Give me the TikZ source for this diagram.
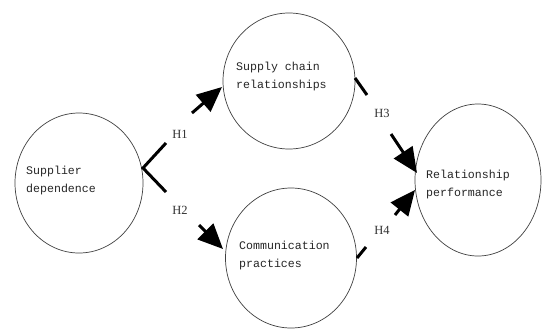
\documentclass[tikz,border=0pt]{standalone}
\usepackage{fontspec}
\setmainfont{Liberation Serif}
\newfontfamily\boxfont{Liberation Mono}
\usetikzlibrary{shapes.geometric,arrows.meta}
\begin{document}
\begin{tikzpicture}[x=1bp,y=-1bp,
  circ/.style={draw=black!75,line width=0.7bp,ellipse,inner sep=0pt},
  txt/.style={font=\boxfont\fontsize{11.6bp}{18bp}\selectfont,align=left,anchor=north west,inner sep=0pt,text=black!85},
  hlab/.style={font=\fontsize{12.5bp}{14bp}\selectfont,text=black!80,inner sep=0pt},
  seg/.style={line width=3bp},
  arr/.style={line width=3bp,-{Triangle[length=25bp,width=22bp]}}]
\useasboundingbox (0,0) rectangle (542,331);
\fill[white] (0,0) rectangle (542,331);
% ellipses
\node[circ,minimum width=128bp,minimum height=140bp] (sd) at (79,183) {};
\node[circ,minimum width=132bp,minimum height=136bp] (sc) at (289,81) {};
\node[circ,minimum width=131bp,minimum height=140bp] (cp) at (291,258) {};
\node[circ,minimum width=126bp,minimum height=152bp] (rp) at (478,180) {};
% texts
\node[txt] (tsd) at (26,166) {Supplier\\dependence};
\node[txt] (tsc) at (236,62) {Supply chain\\relationships};
\node[txt] (tcp) at (239,241) {Communication\\practices};
\node[txt] (trp) at (426,170) {Relationship\\performance};
% labels
\node[hlab] (h1) at (180,134) {H1};
\node[hlab] (h2) at (180,210) {H2};
\node[hlab] (h3) at (382,113) {H3};
\node[hlab] (h4) at (382,230) {H4};
% coordinates
\coordinate (s0) at (143,168);
\coordinate (a1) at (166,143);
\coordinate (b1) at (192,113);
\coordinate (t1) at (222,87);
\coordinate (a2) at (166,192);
\coordinate (b2) at (199,225);
\coordinate (t2) at (223,249);
\coordinate (s3) at (355,78);
\coordinate (a3) at (367,95);
\coordinate (b3) at (391,134);
\coordinate (t3) at (417,173);
\coordinate (s4) at (357,258);
\coordinate (a4) at (366,247);
\coordinate (b4) at (395,215);
\coordinate (t4) at (415,190);
% connectors
\draw[seg] (a1) -- (s0) -- (a2);
\draw[arr] (b1) -- (t1);
\draw[arr] (b2) -- (t2);
\draw[seg] (s3) -- (a3);
\draw[arr] (b3) -- (t3);
\draw[seg] (s4) -- (a4);
\draw[arr] (b4) -- (t4);
\end{tikzpicture}
\end{document}
